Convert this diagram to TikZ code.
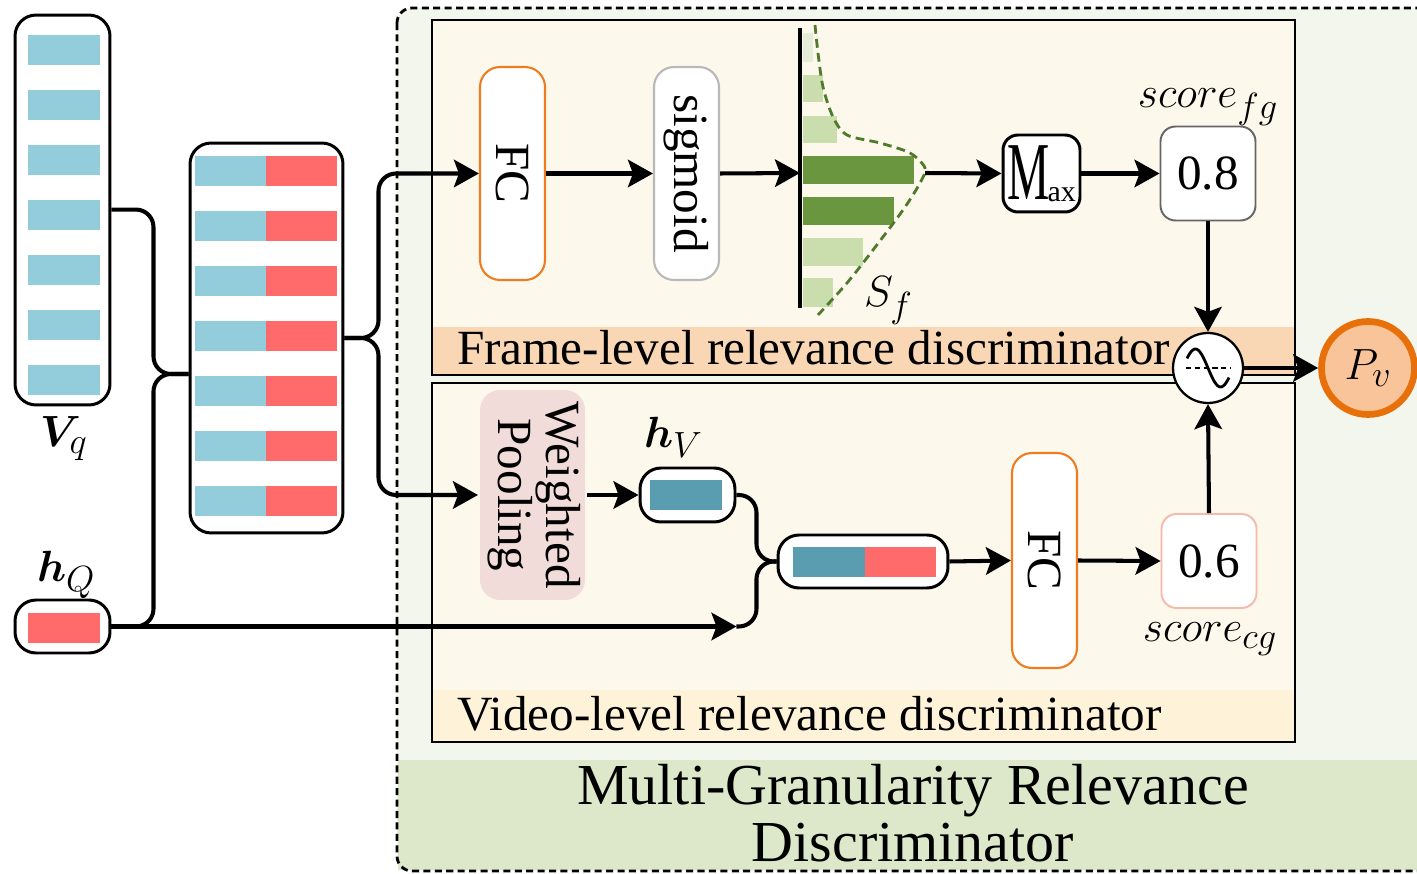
\documentclass[tikz,border=0pt]{standalone}
\usepackage{fontspec}
\setmainfont{Liberation Serif}
\usepackage{bm}
\usetikzlibrary{calc, positioning, arrows.meta}

\definecolor{vqblue}{HTML}{93CDDB}
\definecolor{hqred}{HTML}{FF6B6B}
\definecolor{hvteal}{HTML}{5B9DB0}
\definecolor{fcorange}{HTML}{EE7D22}
\definecolor{outergreen}{HTML}{F2F6EC}
\definecolor{bandgreen}{HTML}{DDE8CA}
\definecolor{creamfill}{HTML}{FDF8EC}
\definecolor{peachband}{HTML}{F9D7B4}
\definecolor{yellowband}{HTML}{FEF3D9}
\definecolor{poolpink}{HTML}{F2DCDA}
\definecolor{bardark}{HTML}{6A9640}
\definecolor{barlight}{HTML}{CADDAC}
\definecolor{barpale}{HTML}{E5EDD8}
\definecolor{curvegreen}{HTML}{4F7A2C}
\definecolor{pvfill}{HTML}{F9C49A}
\definecolor{pvedge}{HTML}{E8700A}
\definecolor{scorepink}{HTML}{F6B9AA}

\begin{document}
\begin{tikzpicture}[
    x=0.02cm, y=-0.02cm,
    >={Stealth[length=0.5cm, width=0.55cm, inset=0.1cm]},
    line width=2.3pt,
    font=\fontsize{28}{32}\selectfont
]

    % Styles for the boxes
    \tikzset{
        stackbox/.style={draw, line width=1.7pt, rounded corners=0.42cm, fill=white, inner sep=0pt},
        layerbox/.style={draw, line width=1.2pt, rounded corners=0.4cm, fill=white,
            minimum width=1.3cm, minimum height=4.26cm, inner sep=0pt},
        scorebox/.style={draw, line width=1.1pt, rounded corners=0.3cm, fill=white,
            minimum width=1.9cm, minimum height=1.88cm, inner sep=0pt},
        wire/.style={line width=2.3pt, rounded corners=10pt}
    }

    \clip (0,0) rectangle (1417,874);

    % Outer discriminator area
    \fill[outergreen, rounded corners=0.3cm] (397,8) rectangle (1440,871);
    \fill[bandgreen] (398,760) rectangle (1440,870);
    \draw[line width=1.6pt, dash pattern=on 4pt off 2.5pt, rounded corners=0.3cm] (397,8) rectangle (1440,871);
    \node[font=\fontsize{33}{32.5}\selectfont, align=center] (MGRD) at (913,813)
        {Multi-Granularity Relevance\\Discriminator};

    % Frame-level area
    \fill[creamfill] (432,20) rectangle (1295,375);
    \fill[peachband] (432,327) rectangle (1295,375);
    \draw[line width=1.1pt] (432,20) rectangle (1295,375);
    \node[anchor=base west, inner sep=0pt] (FrameLab) at (455,365) {Frame-level relevance discriminator};

    % Video-level area
    \fill[creamfill] (432,383) rectangle (1295,742);
    \fill[yellowband] (432,690) rectangle (1295,742);
    \draw[line width=1.1pt] (432,383) rectangle (1295,742);
    \node[anchor=base west, inner sep=0pt] (VideoLab) at (455,730) {Video-level relevance discriminator};

    % Inputs
    \node[stackbox, minimum width=1.9cm, minimum height=7.8cm] (Vq) at (62.5,210) {};
    \foreach \i in {0,...,6}
        \fill[vqblue] (28,35+55*\i) rectangle (100,65+55*\i);
    \node[anchor=base west, inner sep=0pt] (VqLab) at (38,447) {$\bm{V}_{q}$};

    \node[stackbox, minimum width=1.9cm, minimum height=1.06cm] (hQ) at (62.5,626.5) {};
    \fill[hqred] (28,613) rectangle (100,643);
    \node[anchor=base west, inner sep=0pt] (hQLab) at (35,582) {$\bm{h}_{Q}$};

    % Concatenated frames
    \node[stackbox, minimum width=3.06cm, minimum height=7.8cm] (Cat) at (266.5,338) {};
    \foreach \i in {0,...,6} {
        \fill[vqblue] (195,156+55*\i) rectangle (266,186+55*\i);
        \fill[hqred] (266,156+55*\i) rectangle (337,186+55*\i);
    }

    % Frame-level branch
    \node[layerbox, draw=fcorange] (FC1) at (512.5,173.5) {\rotatebox{-90}{FC}};
    \node[layerbox, draw=gray!55] (Sig) at (686.5,173.5) {\rotatebox{-90}{sigmoid}};

    % Histogram S_f
    \fill[barpale]  (803,33)  rectangle (813,62);
    \fill[barlight] (803,75)  rectangle (823,102);
    \fill[barlight] (803,116) rectangle (837,143);
    \fill[bardark]  (803,156) rectangle (914,184);
    \fill[bardark]  (803,197) rectangle (894,225);
    \fill[barlight] (803,238) rectangle (863,266);
    \fill[barlight] (803,278) rectangle (833,307);
    \draw[line width=2.3pt] (800,28) -- (800,308);
    \draw[curvegreen, line width=1.6pt, dash pattern=on 5pt off 3pt, smooth]
        plot coordinates {(815,25) (818,53) (823,87) (833,117) (847,135) (880,143)
        (910,153) (925,168) (920,183) (903,210) (873,250) (847,283) (818,315)};
    \node[anchor=base west, inner sep=0pt] (SfLab) at (862,307) {$S_{f}$};
    \coordinate (HistIn) at (800,173);
    \coordinate (HistOut) at (925,173);

    \node[scorebox, line width=1.7pt, minimum width=1.54cm, minimum height=1.54cm] (MaxN) at (1041.5,173.5)
        {\scalebox{0.75}[1.3]{\fontsize{36}{36}\selectfont M}\kern-1pt\raisebox{-1pt}{\fontsize{17}{17}\selectfont ax}};
    \node[scorebox, draw=gray!80!black] (ScoreF) at (1208,173.5) {0.8};
    \node[anchor=base, inner sep=0pt] (ScoreFLab) at (1208,108) {$score_{fg}$};

    % Video-level branch
    \node[draw=none, fill=poolpink, rounded corners=0.4cm, minimum width=2.1cm, minimum height=4.2cm,
        inner sep=0pt] (Pool) at (532.5,495)
        {\rotatebox{-90}{\fontsize{28}{27}\selectfont\begin{tabular}{@{}c@{}}Weighted\\Pooling\end{tabular}}};
    \node[stackbox, minimum width=1.9cm, minimum height=1.08cm] (hV) at (687.5,495) {};
    \fill[hvteal] (650,480) rectangle (722,510);
    \node[anchor=base west, inner sep=0pt] (hVLab) at (642,448) {$\bm{h}_{V}$};

    \node[stackbox, minimum width=3.4cm, minimum height=1.06cm] (Cat2) at (863,561.5) {};
    \fill[hvteal] (793,547) rectangle (865,577);
    \fill[hqred] (865,547) rectangle (936,577);

    \node[layerbox, draw=fcorange, minimum height=4.3cm] (FC2) at (1044.5,560.5) {\rotatebox{-90}{FC}};
    \node[scorebox, draw=scorepink] (ScoreC) at (1209,561) {0.6};
    \node[anchor=base, inner sep=0pt] (ScoreCLab) at (1210,642) {$score_{cg}$};

    % Fusion and output
    \node[circle, draw, fill=white, line width=1.3pt, minimum size=1.4cm, inner sep=0pt] (Comb) at (1208,368) {};
    \draw[line width=1.6pt, domain=-1:1, smooth, samples=30, variable=\t]
        plot ({1208+21*\t}, {368+19*sin(150*\t)});
    \draw[line width=1pt, dash pattern=on 3pt off 2pt] (1186,368) -- (1230,368);
    \node[circle, draw=pvedge, fill=pvfill, line width=3.8pt, minimum size=1.86cm, inner sep=0pt] (Pv) at (1368,368) {$P_{v}$};

    % Wiring inputs
    \coordinate (CatIn) at ($(Cat.west)+(0,36)$);
    \coordinate (VqOut) at ($(Vq.north east)+(0,196)$);
    \coordinate (hQEnd) at (hV.east |- hQ.east);
    \draw[wire] (VqOut) -- ++(42,0) |- (CatIn);
    \draw[wire] (hQ.east) -- ++(42,0) |- (CatIn);
    \draw[->] (hQ.east) -- (hQEnd);

    \draw[wire, ->] (Cat.east) -- ++(34,0) |- (FC1.west);
    \draw[wire, ->] (Cat.east) -- ++(34,0) |- (Pool.west);

    % Wiring frame-level
    \draw[->] (FC1.east) -- (Sig.west);
    \draw[->] (Sig.east) -- (HistIn);
    \draw[->] (HistOut) -- (MaxN.west);
    \draw[->] (MaxN.east) -- (ScoreF.west);
    \draw[->] (ScoreF.south) -- (Comb.north);

    % Wiring video-level
    \draw[->] (Pool.east) -- (hV.west);
    \draw[wire] (hV.east) -- ++(20,0) |- (Cat2.west);
    \draw[wire] (hQEnd) -- ++(20,0) |- (Cat2.west);
    \draw[->] (Cat2.east) -- (FC2.west);
    \draw[->] (FC2.east) -- (ScoreC.west);
    \draw[->] (ScoreC.north) -- (Comb.south);

    \draw[->] (Comb.east) -- (Pv.west);

\end{tikzpicture}
\end{document}
